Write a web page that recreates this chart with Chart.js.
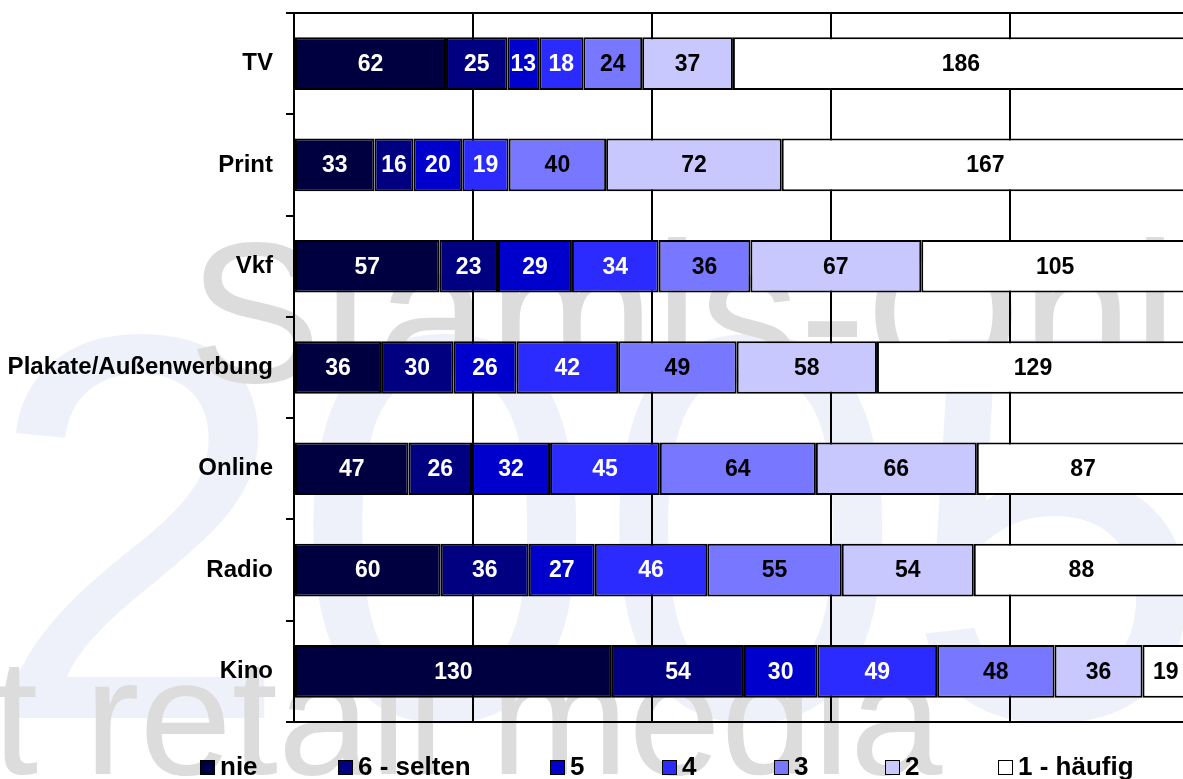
<!DOCTYPE html>
<html>
<head>
<meta charset="utf-8">
<script src="https://cdn.jsdelivr.net/npm/chart.js@4"></script>
<style>
    html, body { margin: 0; padding: 0; background: #fff; overflow: hidden; }
    #wrap { width: 1183px; height: 779px; overflow: hidden; }
</style>
</head>
<body>
<div id="wrap"><canvas id="chart" width="1200" height="779"></canvas></div>
<script>
const categories = ['TV', 'Print', 'Vkf', 'Plakate/Außenwerbung', 'Online', 'Radio', 'Kino'];
const seriesNames = ['nie', '6 - selten', '5', '4', '3', '2', '1 - häufig'];

const nie     = [62, 33, 57, 36, 47, 60, 130];
const selten6 = [25, 16, 23, 30, 26, 36, 54];
const s5      = [13, 20, 29, 26, 32, 27, 30];
const s4      = [18, 19, 34, 42, 45, 46, 49];
const s3      = [24, 40, 36, 49, 64, 55, 48];
const s2      = [37, 72, 67, 58, 66, 54, 36];
const haeufig1 = [186, 167, 105, 129, 87, 88, 19];

const xTicks = [0, 20, 40, 60, 80, 100];

const series = [nie, selten6, s5, s4, s3, s2, haeufig1];
const fills = ['#000040', '#000080', '#0000CC', '#2B2BFF', '#7777FF', '#C8C8FF', '#FFFFFF'];
const labelColors = ['#fff', '#fff', '#fff', '#fff', '#000', '#000', '#000'];

const FONT = "Arial, 'Liberation Sans', sans-serif";

// each row is shown as share of its own total
const rowTotals = categories.map((_, i) => series.reduce((s, arr) => s + arr[i], 0));

const datasets = series.map((arr, k) => ({
    label: seriesNames[k],
    data: arr.map((v, i) => v / rowTotals[i] * 100),
    raw: arr,
    backgroundColor: fills[k],
    borderColor: '#000',
    borderWidth: 2,
    borderSkipped: false,
    barPercentage: 0.52,
    categoryPercentage: 1
}));

// faint background lettering behind the plot
const watermark = {
    id: 'watermark',
    beforeDraw(chart) {
        const ctx = chart.ctx;
        ctx.save();
        ctx.fillStyle = '#fff';
        ctx.fillRect(0, 0, chart.width, chart.height);
        ctx.textBaseline = 'alphabetic';
        ctx.textAlign = 'left';
        ctx.fillStyle = '#EFF1FA';
        ctx.font = '550px ' + FONT;
        ctx.fillText('2005', -14, 718);
        ctx.fillStyle = '#DCDCDC';
        ctx.font = '200px ' + FONT;
        ctx.fillText('Stamis-Online', 188, 382);
        ctx.font = '166px ' + FONT;
        ctx.fillText('t retail media', -8, 774);
        ctx.restore();
    }
};

// value labels in the middle of each segment, plus the top frame line
const segmentLabels = {
    id: 'segmentLabels',
    afterDatasetsDraw(chart) {
        const ctx = chart.ctx;
        const area = chart.chartArea;
        ctx.save();
        ctx.strokeStyle = '#000';
        ctx.lineWidth = 2;
        ctx.beginPath();
        ctx.moveTo(area.left, area.top);
        ctx.lineTo(area.right, area.top);
        ctx.stroke();

        ctx.font = 'bold 23px ' + FONT;
        ctx.textAlign = 'center';
        ctx.textBaseline = 'middle';
        chart.data.datasets.forEach((ds, k) => {
            const meta = chart.getDatasetMeta(k);
            meta.data.forEach((bar, i) => {
                const cx = (bar.x + bar.base) / 2;
                ctx.fillStyle = labelColors[k];
                ctx.fillText(String(ds.raw[i]), cx, bar.y + 1);
            });
        });
        ctx.restore();
    }
};

// legend row under the plot
const legendXs = [200, 338, 550, 662, 774, 885, 998];
const bottomLegend = {
    id: 'bottomLegend',
    afterDraw(chart) {
        const ctx = chart.ctx;
        const y = 767;
        ctx.save();
        ctx.font = 'bold 26px ' + FONT;
        ctx.textAlign = 'left';
        ctx.textBaseline = 'middle';
        seriesNames.forEach((name, k) => {
            const x = legendXs[k];
            ctx.fillStyle = fills[k];
            ctx.fillRect(x, y - 7, 15, 15);
            ctx.strokeStyle = '#000';
            ctx.lineWidth = 1;
            ctx.strokeRect(x + 0.5, y - 6.5, 14, 14);
            ctx.fillStyle = '#000';
            ctx.fillText(name, x + 20, y + 1);
        });
        ctx.restore();
    }
};

new Chart(document.getElementById('chart'), {
    type: 'bar',
    data: { labels: categories, datasets },
    options: {
        indexAxis: 'y',
        responsive: false,
        animation: false,
        layout: { padding: { top: 13, right: 11, bottom: 57, left: 0 } },
        plugins: {
            legend: { display: false },
            tooltip: { enabled: false }
        },
        scales: {
            x: {
                stacked: true,
                min: 0,
                max: 100,
                afterBuildTicks: (scale) => { scale.ticks = xTicks.map(v => ({ value: v })); },
                afterFit: (scale) => { scale.height = 0; },
                ticks: { display: false },
                grid: { color: '#000', lineWidth: 2, drawTicks: false },
                border: { display: true, color: '#000', width: 2 }
            },
            y: {
                stacked: true,
                afterFit: (scale) => {
                    scale.width = 294;
                    scale.paddingTop = 0;
                    scale.paddingBottom = 0;
                },
                ticks: {
                    color: '#000',
                    padding: 13,
                    font: { family: FONT, size: 24, weight: 'bold' }
                },
                grid: {
                    offset: true,
                    drawOnChartArea: false,
                    color: '#000',
                    lineWidth: 2,
                    tickLength: 8
                },
                border: { display: true, color: '#000', width: 2 }
            }
        }
    },
    plugins: [watermark, segmentLabels, bottomLegend]
});
</script>
</body>
</html>
